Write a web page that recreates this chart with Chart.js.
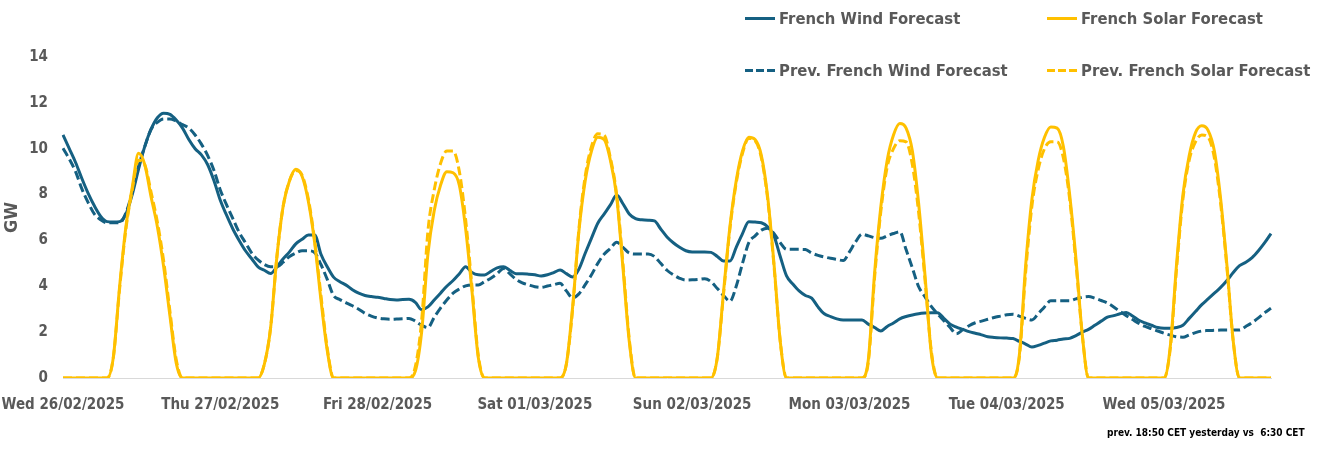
<!DOCTYPE html>
<html>
<head>
<meta charset="utf-8">
<script src="https://cdn.jsdelivr.net/npm/chart.js@4.4.1/dist/chart.umd.min.js"></script>
<style>
  body { margin: 0; background: #fff; }
  #wrap { position: relative; width: 1339px; height: 461px; overflow: hidden; }
  #chart { position: absolute; left: 0; top: 0; }
  .font { font-family: "Liberation Sans Narrow", "DejaVu Sans Condensed", "Roboto", sans-serif; font-weight: bold; }
  .legend-item { position: absolute; display: flex; align-items: center; color: #595959; font-size: 16.5px; white-space: nowrap; }
  .swatch { width: 30px; height: 0; margin-right: 4px; border-top-width: 3px; }
  .note { position: absolute; left: 1107px; top: 427px; font-size: 10px; color: #000; white-space: pre; }
</style>
</head>
<body>
<div id="wrap">
  <canvas id="chart" width="1339" height="461"></canvas>
  <div id="legend"></div>
  <div class="note font">prev. 18:50 CET yesterday vs  6:30 CET</div>
</div>
<script>
// hourly values, one row per day, starting Wed 26/02/2025 00:00
const windForecast = [
  10.6, 10.0, 9.4, 8.7, 8.05, 7.5, 7.05, 6.82, 6.8, 6.82, 7.15, 8.0, 9.1, 10.1, 10.85, 11.35, 11.55, 11.5, 11.25, 10.9, 10.4, 10.0, 9.73, 9.3,
  8.6, 7.75, 7.1, 6.5, 6.0, 5.55, 5.2, 4.85, 4.7, 4.56, 4.85, 5.2, 5.5, 5.85, 6.05, 6.24, 6.24, 5.4, 4.85, 4.4, 4.2, 4.05, 3.85, 3.7,
  3.6, 3.55, 3.52, 3.47, 3.42, 3.4, 3.42, 3.43, 3.3, 2.98, 3.1, 3.4, 3.7, 4.0, 4.25, 4.55, 4.85, 4.6, 4.5, 4.49, 4.65, 4.8, 4.85, 4.7,
  4.55, 4.55, 4.53, 4.5, 4.45, 4.5, 4.6, 4.71, 4.55, 4.4, 4.75, 5.44, 6.1, 6.75, 7.15, 7.55, 7.98, 7.6, 7.15, 6.95, 6.9, 6.88, 6.85, 6.5,
  6.15, 5.9, 5.7, 5.55, 5.5, 5.5, 5.5, 5.48, 5.3, 5.1, 5.1, 5.7, 6.3, 6.82, 6.8, 6.77, 6.6, 6.2, 5.3, 4.45, 4.1, 3.8, 3.6, 3.48,
  3.1, 2.8, 2.68, 2.58, 2.53, 2.53, 2.53, 2.53, 2.35, 2.2, 2.05, 2.25, 2.4, 2.58, 2.68, 2.75, 2.8, 2.83, 2.85, 2.85, 2.6, 2.35, 2.22, 2.12,
  2.02, 1.95, 1.88, 1.8, 1.77, 1.75, 1.74, 1.72, 1.6, 1.48, 1.35, 1.42, 1.52, 1.62, 1.65, 1.7, 1.73, 1.85, 2.0, 2.12, 2.3, 2.48, 2.65, 2.72,
  2.8, 2.86, 2.7, 2.52, 2.4, 2.3, 2.2, 2.17, 2.17, 2.2, 2.3, 2.6, 2.9, 3.2, 3.45, 3.7, 3.95, 4.25, 4.6, 4.9, 5.05, 5.25, 5.55, 5.9, 6.3
];

const solarForecast = [
  0, 0, 0, 0, 0, 0, 0, 0, 0.9, 4.0, 6.6, 8.3, 9.8, 9.3, 7.9, 6.6, 4.85, 2.7, 0.65, 0, 0, 0, 0, 0,
  0, 0, 0, 0, 0, 0, 0, 0, 0.6, 2.2, 5.3, 7.5, 8.6, 9.1, 8.8, 7.7, 5.9, 3.4, 1.2, 0, 0, 0, 0, 0,
  0, 0, 0, 0, 0, 0, 0, 0, 0.3, 2.0, 5.4, 7.3, 8.4, 9.0, 8.95, 8.4, 6.5, 3.8, 0.9, 0, 0, 0, 0, 0,
  0, 0, 0, 0, 0, 0, 0, 0, 0.6, 3.1, 6.4, 8.6, 9.9, 10.5, 10.4, 9.5, 7.9, 4.8, 1.6, 0, 0, 0, 0, 0,
  0, 0, 0, 0, 0, 0, 0, 0, 0.9, 3.8, 6.6, 8.6, 9.9, 10.5, 10.4, 9.7, 7.9, 5.0, 1.6, 0, 0, 0, 0, 0,
  0, 0, 0, 0, 0, 0, 0, 0, 0.8, 4.6, 7.5, 9.5, 10.6, 11.1, 10.9, 9.9, 7.6, 4.5, 1.1, 0, 0, 0, 0, 0,
  0, 0, 0, 0, 0, 0, 0, 0, 1.0, 4.9, 7.8, 9.5, 10.5, 10.95, 10.9, 10.1, 8.0, 5.2, 1.9, 0, 0, 0, 0, 0,
  0, 0, 0, 0, 0, 0, 0, 0, 1.4, 5.0, 8.0, 9.7, 10.7, 11.0, 10.8, 9.9, 7.8, 4.9, 1.6, 0, 0, 0, 0, 0, 0
];

const prevWindForecast = [
  10.02, 9.55, 9.0, 8.25, 7.65, 7.15, 6.9, 6.77, 6.77, 6.77, 7.2, 8.1, 9.22, 10.1, 10.85, 11.15, 11.3, 11.3, 11.2, 11.05, 10.9, 10.6, 10.2, 9.7,
  9.05, 8.2, 7.55, 6.95, 6.35, 5.9, 5.45, 5.15, 4.95, 4.85, 4.85, 5.05, 5.3, 5.45, 5.55, 5.55, 5.47, 4.95, 4.3, 3.6, 3.42, 3.28, 3.15, 3.0,
  2.82, 2.7, 2.62, 2.58, 2.56, 2.57, 2.58, 2.6, 2.48, 2.3, 2.2, 2.65, 3.05, 3.4, 3.7, 3.88, 4.02, 4.06, 4.06, 4.2, 4.35, 4.55, 4.78, 4.55,
  4.3, 4.15, 4.06, 3.98, 3.95, 4.01, 4.07, 4.13, 3.8, 3.5, 3.67, 4.07, 4.5, 5.0, 5.4, 5.65, 5.92, 5.7, 5.45, 5.41, 5.41, 5.41, 5.3, 5.0,
  4.7, 4.5, 4.35, 4.27, 4.28, 4.3, 4.33, 4.2, 3.9, 3.6, 3.35, 4.0, 5.0, 5.9, 6.2, 6.45, 6.53, 6.3, 5.9, 5.61, 5.61, 5.61, 5.6, 5.45,
  5.35, 5.28, 5.22, 5.17, 5.12, 5.5, 5.95, 6.27, 6.2, 6.12, 6.09, 6.2, 6.3, 6.38, 5.6, 4.8, 3.98, 3.55, 3.12, 2.8, 2.5, 2.2, 1.93, 2.1,
  2.28, 2.41, 2.48, 2.56, 2.64, 2.7, 2.76, 2.78, 2.7, 2.6, 2.53, 2.8, 3.1, 3.37, 3.37, 3.37, 3.37, 3.45, 3.52, 3.55, 3.48, 3.38, 3.27, 3.1,
  2.9, 2.72, 2.55, 2.38, 2.25, 2.15, 2.05, 1.95, 1.87, 1.8, 1.78, 1.88, 1.98, 2.05, 2.07, 2.08, 2.09, 2.09, 2.09, 2.09, 2.25, 2.42, 2.62, 2.85, 3.04
];

const prevSolarForecast = [
  0, 0, 0, 0, 0, 0, 0, 0, 0.9, 3.9, 6.5, 8.2, 9.5, 9.3, 8.1, 6.8, 5.1, 2.9, 0.8, 0, 0, 0, 0, 0,
  0, 0, 0, 0, 0, 0, 0, 0, 0.6, 2.2, 5.3, 7.5, 8.6, 9.05, 8.85, 7.8, 6.0, 3.6, 1.3, 0, 0, 0, 0, 0,
  0, 0, 0, 0, 0, 0, 0, 0, 0.5, 2.5, 6.4, 8.2, 9.35, 9.9, 9.9, 9.0, 6.9, 4.0, 1.0, 0, 0, 0, 0, 0,
  0, 0, 0, 0, 0, 0, 0, 0, 0.6, 3.0, 6.5, 8.8, 10.1, 10.65, 10.6, 9.6, 8.0, 5.0, 1.7, 0, 0, 0, 0, 0,
  0, 0, 0, 0, 0, 0, 0, 0, 0.9, 3.7, 6.5, 8.5, 9.8, 10.45, 10.35, 9.6, 7.8, 4.9, 1.6, 0, 0, 0, 0, 0,
  0, 0, 0, 0, 0, 0, 0, 0, 0.7, 4.4, 7.3, 9.2, 10.0, 10.35, 10.3, 9.3, 7.2, 4.3, 1.2, 0, 0, 0, 0, 0,
  0, 0, 0, 0, 0, 0, 0, 0, 0.9, 4.6, 7.5, 9.1, 10.0, 10.3, 10.3, 9.6, 7.8, 5.0, 1.9, 0, 0, 0, 0, 0,
  0, 0, 0, 0, 0, 0, 0, 0, 1.3, 4.8, 7.8, 9.5, 10.3, 10.6, 10.5, 9.6, 7.6, 4.8, 1.6, 0, 0, 0, 0, 0, 0
];

// axis shows a date every 25 hourly points
const dateLabels = [
  "Wed 26/02/2025", "Thu 27/02/2025", "Fri 28/02/2025", "Sat 01/03/2025",
  "Sun 02/03/2025", "Mon 03/03/2025", "Tue 04/03/2025", "Wed 05/03/2025"
];
const LABEL_STEP = 25;
const yTicks = [0, 2, 4, 6, 8, 10, 12, 14];

const WIND_COLOR = "#156082";
const SOLAR_COLOR = "#FFC000";
const TEXT_COLOR = "#595959";
const FONT = '"Liberation Sans Narrow", "DejaVu Sans Condensed", Roboto, sans-serif';

const series = [
  { label: "French Wind Forecast", data: windForecast, color: WIND_COLOR, dash: [], order: 2 },
  { label: "French Solar Forecast", data: solarForecast, color: SOLAR_COLOR, dash: [], order: 0 },
  { label: "Prev. French Wind Forecast", data: prevWindForecast, color: WIND_COLOR, dash: [9, 4], order: 3 },
  { label: "Prev. French Solar Forecast", data: prevSolarForecast, color: SOLAR_COLOR, dash: [9, 4], order: 1 }
];

// html legend, two columns
const legendEl = document.getElementById("legend");
const legendPos = [[745, 18], [1047, 18], [745, 70], [1047, 70]];
series.forEach((s, i) => {
  const item = document.createElement("div");
  item.className = "legend-item font";
  item.style.left = legendPos[i][0] + "px";
  item.style.top = (legendPos[i][1] - 10) + "px";
  item.style.height = "20px";
  const sw = document.createElement("span");
  sw.className = "swatch";
  if (s.dash.length) {
    sw.style.height = "3px";
    sw.style.background = `repeating-linear-gradient(90deg, ${s.color} 0 8px, transparent 8px 11px)`;
  } else {
    sw.style.borderTopStyle = "solid";
    sw.style.borderTopColor = s.color;
  }
  item.appendChild(sw);
  item.appendChild(document.createTextNode(s.label));
  legendEl.appendChild(item);
});

const labels = windForecast.map((_, i) => i);

new Chart(document.getElementById("chart"), {
  type: "line",
  data: {
    labels,
    datasets: series.map((s) => ({
      label: s.label,
      data: s.data,
      borderColor: s.color,
      backgroundColor: s.color,
      borderWidth: 3,
      borderDash: s.dash,
      pointRadius: 0,
      cubicInterpolationMode: "monotone",
      order: s.order
    }))
  },
  options: {
    responsive: false,
    animation: false,
    layout: { padding: { left: 0, top: 57, right: 68, bottom: 0 } },
    plugins: { legend: { display: false }, tooltip: { enabled: false } },
    scales: {
      x: {
        grid: { display: false },
        border: { display: true, color: "#D9D9D9", width: 1 },
        ticks: {
          autoSkip: false,
          maxRotation: 0,
          minRotation: 0,
          padding: 10,
          color: TEXT_COLOR,
          font: { family: FONT, size: 15, weight: "bold" },
          callback: (value, index) => (index % LABEL_STEP === 0 ? dateLabels[index / LABEL_STEP] : null)
        },
        afterFit: (scale) => {
          scale.height = 83;
          scale.paddingLeft = 0;
          scale.paddingRight = 0;
        }
      },
      y: {
        min: 0,
        max: 14,
        afterBuildTicks: (scale) => { scale.ticks = yTicks.map((v) => ({ value: v })); },
        grid: { display: false },
        border: { display: false },
        ticks: {
          padding: 7,
          color: TEXT_COLOR,
          font: { family: FONT, size: 15, weight: "bold" }
        },
        title: {
          display: true,
          text: "GW",
          color: TEXT_COLOR,
          padding: { top: 2, bottom: 0 },
          font: { family: FONT, size: 18, weight: "bold" }
        },
        afterFit: (scale) => { scale.width = 63; }
      }
    }
  }
});
</script>
</body>
</html>
